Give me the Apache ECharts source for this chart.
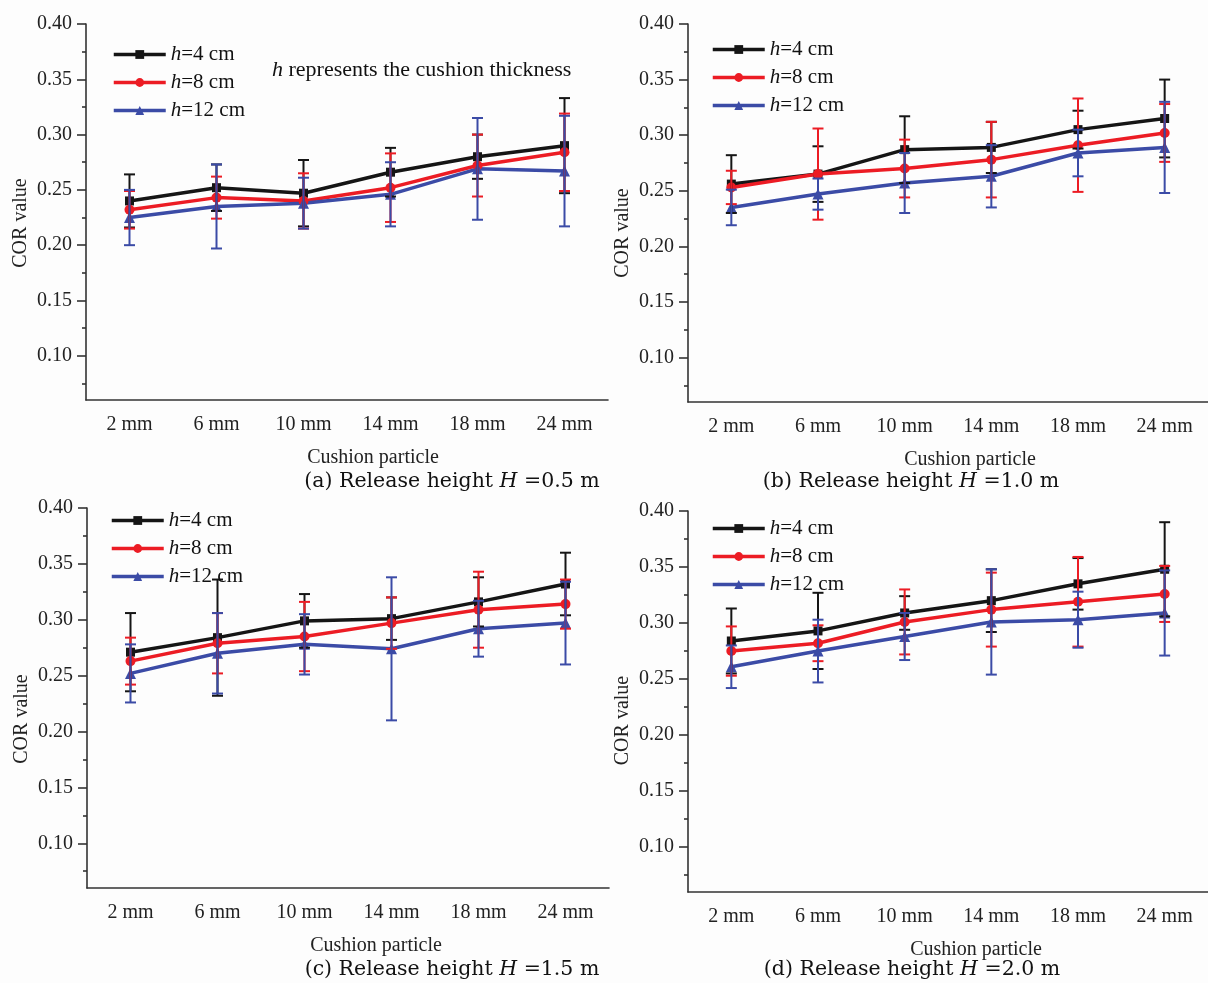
<!DOCTYPE html>
<html>
<head>
<meta charset="utf-8">
<title>COR value</title>
<script src="https://cdn.jsdelivr.net/npm/echarts@6/dist/echarts.min.js"></script>
<style>
    html, body { margin: 0; padding: 0; background: #fdfdfd; }
    #chart { width: 1208px; height: 983px; }
</style>
</head>
<body>
<div id="chart"></div>
<script>
/* 数据 */
var categories = ['2 mm', '6 mm', '10 mm', '14 mm', '18 mm', '24 mm'];
var seriesNames = ['h=4 cm', 'h=8 cm', 'h=12 cm'];
var yLabels = [0.10, 0.15, 0.20, 0.25, 0.30, 0.35, 0.40];
var yMinorTicks = [0.075, 0.125, 0.175, 0.225, 0.275, 0.325, 0.375];

// (a) H = 0.5 m
var a_h4 = [0.240, 0.252, 0.247, 0.266, 0.280, 0.290];
var a_h4_err = [0.024, 0.021, 0.030, 0.022, 0.020, 0.043];
var a_h8 = [0.232, 0.243, 0.240, 0.252, 0.272, 0.284];
var a_h8_err = [0.017, 0.019, 0.025, 0.031, 0.028, 0.035];
var a_h12 = [0.225, 0.235, 0.238, 0.246, 0.269, 0.267];
var a_h12_err = [0.025, 0.038, 0.023, 0.029, 0.046, 0.050];

// (b) H = 1.0 m
var b_h4 = [0.256, 0.265, 0.287, 0.289, 0.305, 0.315];
var b_h4_err = [0.026, 0.025, 0.030, 0.023, 0.017, 0.035];
var b_h8 = [0.253, 0.265, 0.270, 0.278, 0.291, 0.302];
var b_h8_err = [0.015, 0.041, 0.026, 0.034, 0.042, 0.026];
var b_h12 = [0.235, 0.247, 0.257, 0.263, 0.284, 0.289];
var b_h12_err = [0.016, 0.014, 0.027, 0.028, 0.021, 0.041];

// (c) H = 1.5 m
var c_h4 = [0.271, 0.284, 0.299, 0.301, 0.316, 0.332];
var c_h4_err = [0.035, 0.052, 0.024, 0.019, 0.022, 0.028];
var c_h8 = [0.263, 0.279, 0.285, 0.297, 0.309, 0.314];
var c_h8_err = [0.021, 0.027, 0.031, 0.023, 0.034, 0.022];
var c_h12 = [0.252, 0.270, 0.278, 0.274, 0.292, 0.297];
var c_h12_err = [0.026, 0.036, 0.027, 0.064, 0.025, 0.037];

// (d) H = 2.0 m
var d_h4 = [0.284, 0.293, 0.309, 0.320, 0.335, 0.348];
var d_h4_err = [0.029, 0.034, 0.015, 0.028, 0.023, 0.042];
var d_h8 = [0.275, 0.282, 0.301, 0.312, 0.319, 0.326];
var d_h8_err = [0.022, 0.016, 0.029, 0.033, 0.040, 0.025];
var d_h12 = [0.261, 0.275, 0.288, 0.301, 0.303, 0.309];
var d_h12_err = [0.019, 0.028, 0.021, 0.047, 0.025, 0.038];

var captions = ['(a) Release height ', '(b) Release height ', '(c) Release height ', '(d) Release height '];
var heights = ['=0.5 m', '=1.0 m', '=1.5 m', '=2.0 m'];

/* 样式 */
var font = "'Liberation Serif', 'Times New Roman', serif";
var capFont = "'DejaVu Serif', Georgia, serif";
var colors = ['#151515', '#ec1c24', '#3b4ba6'];
var symbols = ['rect', 'circle', 'triangle'];
var symbolSizes = [9, 10, 11];
var axisColor = '#333';

// 每个子图的位置
var panels = [
    { left: 86,  top: 24,  width: 522, height: 376, legendLeft: 107, legendTop: 39, nameShiftX: 52, nameShiftY: 22, capX: 452, capY: 482, values: [a_h4, a_h8, a_h12], errs: [a_h4_err, a_h8_err, a_h12_err] },
    { left: 688, top: 24,  width: 522, height: 378, legendLeft: 706, legendTop: 34, nameShiftX: 44, nameShiftY: 40, capX: 911, capY: 482, values: [b_h4, b_h8, b_h12], errs: [b_h4_err, b_h8_err, b_h12_err] },
    { left: 87,  top: 508, width: 522, height: 380, legendLeft: 105, legendTop: 505, nameShiftX: 56, nameShiftY: 42, capX: 452, capY: 970, values: [c_h4, c_h8, c_h12], errs: [c_h4_err, c_h8_err, c_h12_err] },
    { left: 688, top: 511, width: 522, height: 381, legendLeft: 706, legendTop: 513, nameShiftX: 56, nameShiftY: 38, capX: 912, capY: 970, values: [d_h4, d_h8, d_h12], errs: [d_h4_err, d_h8_err, d_h12_err] }
];

// 误差棒
function errorBar(color) {
    return function (params, api) {
        var x = api.value(0), v = api.value(1), e = api.value(2);
        var top = api.coord([x, v + e]);
        var bot = api.coord([x, v - e]);
        var hw = 5.5;
        var style = { stroke: color, lineWidth: 2 };
        return {
            type: 'group',
            children: [
                { type: 'line', shape: { x1: top[0], y1: top[1], x2: bot[0], y2: bot[1] }, style: style },
                { type: 'line', shape: { x1: top[0] - hw, y1: top[1], x2: top[0] + hw, y2: top[1] }, style: style },
                { type: 'line', shape: { x1: bot[0] - hw, y1: bot[1], x2: bot[0] + hw, y2: bot[1] }, style: style }
            ]
        };
    };
}

var grid = [], xAxis = [], yAxis = [], series = [], legend = [], graphic = [];

panels.forEach(function (p, g) {
    grid.push({ left: p.left, top: p.top, width: p.width, height: p.height });

    // 主 x 轴
    xAxis.push({
        type: 'category',
        gridIndex: g,
        data: categories,
        name: 'Cushion particle',
        nameLocation: 'middle',
        nameGap: 48,
        nameTextStyle: { fontFamily: font, fontSize: 20, color: '#222', padding: [0, 0, 0, p.nameShiftX] },
        axisLine: { lineStyle: { color: axisColor, width: 1.6 } },
        axisTick: { alignWithLabel: true, length: 7, lineStyle: { color: axisColor, width: 1.6 } },
        axisLabel: { fontFamily: font, fontSize: 20, color: '#222', margin: 15 },
        splitLine: { show: false }
    });
    // 次刻度 x 轴
    xAxis.push({
        type: 'category',
        gridIndex: g,
        data: categories,
        position: 'bottom',
        axisLine: { show: false },
        axisTick: { length: 4, lineStyle: { color: axisColor, width: 1.6 } },
        axisLabel: { show: false },
        splitLine: { show: false }
    });

    // 主 y 轴
    yAxis.push({
        type: 'value',
        gridIndex: g,
        min: 0.06,
        max: 0.40,
        name: 'COR value',
        nameLocation: 'middle',
        nameGap: 55,
        nameTextStyle: { fontFamily: font, fontSize: 20, color: '#222', padding: [0, p.nameShiftY, 0, 0] },
        axisLine: { show: true, lineStyle: { color: axisColor, width: 1.6 } },
        axisTick: { show: true, length: 9, customValues: yLabels, lineStyle: { color: axisColor, width: 1.6 } },
        axisLabel: {
            fontFamily: font, fontSize: 20, color: '#222', margin: 14,
            customValues: yLabels,
            formatter: function (v) { return v.toFixed(2); }
        },
        splitLine: { show: false }
    });
    // 次刻度 y 轴
    yAxis.push({
        type: 'value',
        gridIndex: g,
        min: 0.06,
        max: 0.40,
        position: 'left',
        axisLine: { show: false },
        axisTick: { show: true, length: 4, customValues: yMinorTicks, lineStyle: { color: axisColor, width: 1.6 } },
        axisLabel: { show: false },
        splitLine: { show: false }
    });

    for (var s = 0; s < 3; s++) {
        var vals = p.values[s], errs = p.errs[s];
        series.push({
            name: seriesNames[s],
            type: 'line',
            xAxisIndex: g * 2,
            yAxisIndex: g * 2,
            data: vals,
            symbol: symbols[s],
            symbolSize: symbolSizes[s],
            lineStyle: { color: colors[s], width: 3.5 },
            itemStyle: { color: colors[s] },
            z: 2
        });
        var ebData = [];
        for (var i = 0; i < vals.length; i++) {
            ebData.push([i, vals[i], errs[i]]);
        }
        series.push({
            name: seriesNames[s],
            type: 'custom',
            xAxisIndex: g * 2,
            yAxisIndex: g * 2,
            data: ebData,
            renderItem: errorBar(colors[s]),
            encode: { x: 0, y: 1 },
            z: 3
        });
    }

    legend.push({
        left: p.legendLeft,
        top: p.legendTop,
        orient: 'vertical',
        itemWidth: 52,
        itemHeight: 11,
        itemGap: 7,
        data: seriesNames,
        lineStyle: { width: 3.5 },
        textStyle: {
            fontFamily: font, fontSize: 21, color: '#111', lineHeight: 20,
            rich: { i: { fontFamily: font, fontSize: 21, fontStyle: 'italic', color: '#111' } }
        },
        formatter: function (name) { return '{i|h}' + name.slice(1); }
    });

    // 子图标题
    graphic.push({
        type: 'text',
        x: p.capX,
        y: p.capY,
        style: {
            text: captions[g] + '{i|H} ' + heights[g],
            fontFamily: capFont,
            fontSize: 20.5,
            fill: '#111',
            align: 'center',
            verticalAlign: 'middle',
            rich: { i: { fontFamily: capFont, fontSize: 20.5, fontStyle: 'italic', fill: '#111' } }
        }
    });
});

// (a) 中的说明
graphic.push({
    type: 'text',
    x: 272,
    y: 70,
    style: {
        text: '{i|h} represents the cushion thickness',
        fontFamily: font,
        fontSize: 22,
        fill: '#111',
        verticalAlign: 'middle',
        rich: { i: { fontFamily: font, fontSize: 22, fontStyle: 'italic', fill: '#111' } }
    }
});

var chart = echarts.init(document.getElementById('chart'));
chart.setOption({
    backgroundColor: '#fdfdfd',
    animation: false,
    grid: grid,
    xAxis: xAxis,
    yAxis: yAxis,
    legend: legend,
    series: series,
    graphic: graphic
});
</script>
</body>
</html>
